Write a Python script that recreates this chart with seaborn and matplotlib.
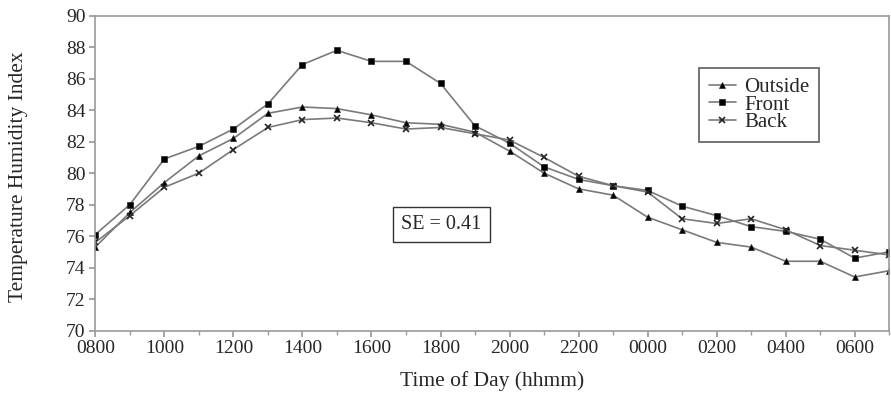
import pandas as pd
import seaborn as sns
import matplotlib.pyplot as plt
from matplotlib.ticker import MultipleLocator

# hourly readings from 0800 through 0700 next day
hours = ["0800", "0900", "1000", "1100", "1200", "1300", "1400", "1500",
         "1600", "1700", "1800", "1900", "2000", "2100", "2200", "2300",
         "0000", "0100", "0200", "0300", "0400", "0500", "0600", "0700"]
outside = [75.3, 77.5, 79.4, 81.1, 82.2, 83.8, 84.2, 84.1,
           83.7, 83.2, 83.1, 82.6, 81.4, 80.0, 79.0, 78.6,
           77.2, 76.4, 75.6, 75.3, 74.4, 74.4, 73.4, 73.8]
front = [76.1, 78.0, 80.9, 81.7, 82.8, 84.4, 86.9, 87.8,
         87.1, 87.1, 85.7, 83.0, 81.9, 80.4, 79.6, 79.2,
         78.9, 77.9, 77.3, 76.6, 76.3, 75.8, 74.6, 75.0]
back = [75.6, 77.3, 79.1, 80.0, 81.5, 82.9, 83.4, 83.5,
        83.2, 82.8, 82.9, 82.5, 82.1, 81.0, 79.8, 79.2,
        78.8, 77.1, 76.8, 77.1, 76.4, 75.4, 75.1, 74.8]

series = [("Outside", outside, "^", 5.0),
          ("Front", front, "s", 4.5),
          ("Back", back, "x", 4.5)]

sns.set_theme(style="white")
plt.rcParams["font.family"] = ["Liberation Serif", "DejaVu Serif"]

fig, ax = plt.subplots(figsize=(8.91, 3.93), dpi=100)
fig.subplots_adjust(left=0.107, right=0.998, top=0.96, bottom=0.159)

x = list(range(len(hours)))
for name, vals, mk, ms in series:
    sns.lineplot(x=x, y=vals, label=name, color="#7a7a7a", linewidth=1.2,
                 marker=mk, markersize=ms, markerfacecolor="black",
                 markeredgecolor="#222222",
                 markeredgewidth=1.2 if mk == "x" else 0.5, ax=ax)

ax.set_xlim(0, len(hours) - 1)
ax.set_ylim(70, 90)
ax.set_xticks(range(0, len(hours), 2))
ax.set_xticklabels(hours[::2])
ax.xaxis.set_minor_locator(MultipleLocator(1))
ax.set_yticks(range(70, 91, 2))

for s in ax.spines.values():
    s.set_color("#9a9a9a")
    s.set_linewidth(1.2)
ax.tick_params(axis="both", which="both", direction="out", color="#9a9a9a",
               labelsize=14, bottom=True, left=True)
ax.tick_params(axis="x", which="major", length=4, pad=3)
ax.tick_params(axis="x", which="minor", length=3)
ax.tick_params(axis="y", length=4, pad=3)

ax.set_xlabel("Time of Day (hhmm)", fontsize=15.5)
ax.set_ylabel("Temperature Humidity Index", fontsize=15.5)
ax.xaxis.set_label_coords(0.5, -0.13)
ax.yaxis.set_label_coords(-0.085, 0.49)

leg = ax.legend(loc="upper left", bbox_to_anchor=(0.761, 0.833), fontsize=15,
                frameon=True, fancybox=False, edgecolor="#333333",
                handlelength=1.3, handletextpad=0.4, labelspacing=-0.1,
                borderpad=0.45, borderaxespad=0)
leg.get_frame().set_linewidth(1.2)

ax.text(0.436, 0.338, "SE = 0.41", transform=ax.transAxes, fontsize=14.5,
        ha="center", va="center",
        bbox=dict(boxstyle="square,pad=0.4", facecolor="white",
                  edgecolor="#333333", linewidth=1.0))

fig.savefig("out.png", dpi=100)
plt.close(fig)
